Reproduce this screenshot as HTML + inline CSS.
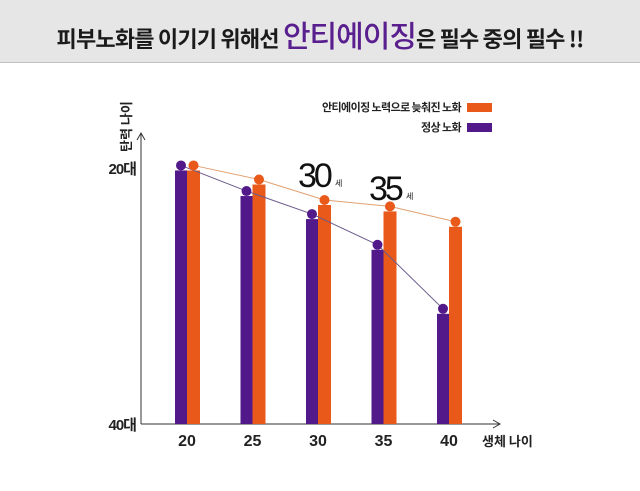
<!DOCTYPE html>
<html><head><meta charset="utf-8"><style>
html,body{margin:0;padding:0;background:#fff;}
body{width:640px;height:491px;position:relative;overflow:hidden;font-family:"Liberation Sans","Noto Sans CJK KR",sans-serif;}
#title-bar{position:absolute;left:0;top:0;width:640px;height:62px;background:#e6e6e6;border-bottom:1px solid #c2c2c2;}
#title{position:absolute;left:0;top:0;width:640px;height:62px;text-align:center;line-height:68px;font-family:"Noto Sans CJK KR",sans-serif;font-weight:bold;font-size:22px;color:#1a1a1a;letter-spacing:-0.8px;white-space:nowrap;}
#title .hl{color:#5a1f8e;font-size:30px;font-weight:500;letter-spacing:-1px;}
svg{position:absolute;left:0;top:0;}
</style></head><body>
<div id="title-bar"></div>
<div id="title">피부노화를 이기기 위해선 <span class="hl">안티에이징</span>은 필수 중의 필수 !!</div>
<svg id="chart" width="640" height="491"></svg>
<script>
const categories = [20, 25, 30, 35, 40];
const normalAging = [19.8, 21.8, 23.6, 26.0, 31.0];
const antiAging = [19.8, 20.9, 22.5, 23.0, 24.2];
const yTickLabels = ["20대", "40대"];
const yTickValues = [20, 40];

const NS = "http://www.w3.org/2000/svg";
const svg = document.getElementById("chart");
const xScale = v => 187 + (v - 20) / 20 * 262;
const yScale = v => 168 + (v - 20) / 20 * 256;
const baseY = 424;
const PURPLE = "#52198a", ORANGE = "#e8591a";
function mk(tag, attrs, parent){ const e=document.createElementNS(NS,tag); for(const k in attrs) e.setAttribute(k,attrs[k]); (parent||svg).appendChild(e); return e; }

const ya = mk("line",{x1:141,y1:134,x2:141,y2:baseY,stroke:"#333","stroke-width":1});


const yarr = mk("path",{d:"M137,140 L141,133 L145,140",fill:"none",stroke:"#333","stroke-width":1});


const xa = mk("line",{x1:141,y1:baseY,x2:500,y2:baseY,stroke:"#333","stroke-width":1});


const xarr = mk("path",{d:"M493,420 L500,424 L493,428",fill:"none",stroke:"#333","stroke-width":1});



yTickValues.forEach((v,i)=>{
  const t = mk("text",{x:136,y:yScale(v)+6,"text-anchor":"end","font-size":15,"font-weight":"bold",fill:"#222","font-family":"Liberation Sans, Noto Sans CJK KR, sans-serif","letter-spacing":"-1"});
  t.textContent = yTickLabels[i];
  
  
});
const yt = mk("text",{x:0,y:0,"font-size":13,"font-weight":"bold",fill:"#222",transform:"translate(131,152) rotate(-90)","font-family":"Noto Sans CJK KR, sans-serif"});
yt.textContent = "탄력 나이";



categories.forEach((c,i)=>{
  const cx = xScale(c);
  const pb = mk("rect",{x:cx-12,y:yScale(normalAging[i])+5,width:12,height:baseY-yScale(normalAging[i])-5,fill:PURPLE});
  
  
  const ob = mk("rect",{x:cx,y:yScale(antiAging[i])+5,width:13,height:baseY-yScale(antiAging[i])-5,fill:ORANGE});
  
  
  const xl = mk("text",{x:cx,y:446,"text-anchor":"middle","font-size":16,"font-weight":"bold",fill:"#222"});
  xl.textContent = c;
  
  
});
const ptsN = categories.map((c,i)=>[xScale(c)-6,yScale(normalAging[i])]);
const ptsA = categories.map((c,i)=>[xScale(c)+6.5,yScale(antiAging[i])]);
const ln = mk("polyline",{points:ptsN.map(p=>p.join(",")).join(" "),fill:"none",stroke:"#6a5a8a","stroke-width":1});


const la = mk("polyline",{points:ptsA.map(p=>p.join(",")).join(" "),fill:"none",stroke:"#e0a070","stroke-width":1});


ptsN.forEach(p=>{ const d=mk("circle",{cx:p[0],cy:p[1],r:5,fill:PURPLE});   });
ptsA.forEach(p=>{ const d=mk("circle",{cx:p[0],cy:p[1],r:5,fill:ORANGE});   });

function ann(x,y,big,name){
  const g = mk("text",{x:x,y:y,"font-size":34,fill:"#111","letter-spacing":"-3","font-family":"Liberation Sans, sans-serif"});
  g.textContent = big;
  
  
  const s = mk("text",{x:x+37,y:y-1,"font-size":8,fill:"#111","font-family":"Noto Sans CJK KR, sans-serif"});
  s.textContent = "세";
  
  
}
ann(298,187,"30","annotation-30");
ann(369,200,"35","annotation-35");

const xt = mk("text",{x:482,y:446,"font-size":13,"font-weight":"bold",fill:"#222","font-family":"Noto Sans CJK KR, sans-serif"});
xt.textContent = "생체 나이";



const leg = [["안티에이징 노력으로 늦춰진 노화",ORANGE,107],["정상 노화",PURPLE,127]];
leg.forEach((l,i)=>{
  const t = mk("text",{x:461,y:l[2]+4,"text-anchor":"end","font-size":11,"font-weight":"bold",fill:"#222","font-family":"Noto Sans CJK KR, sans-serif","letter-spacing":"-0.6"});
  t.textContent = l[0];
  
  
  const r = mk("rect",{x:467,y:l[2]-4,width:25,height:9,fill:l[1]});
  
  
});
</script>
</body></html>
